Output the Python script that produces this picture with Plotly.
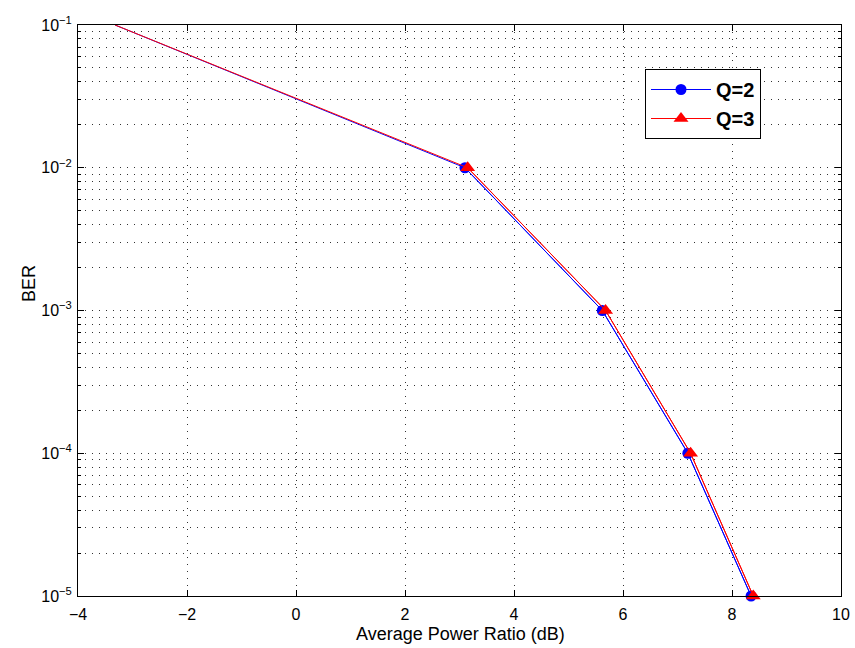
import plotly.graph_objects as go

# Data
ber = [1e-1, 1e-2, 1e-3, 1e-4, 1e-5]
x_q2 = [-3.32, 3.10, 5.62, 7.19, 8.35]
x_q3 = [-3.32, 3.15, 5.68, 7.24, 8.39]
series_names = ["Q=2", "Q=3"]
colors = ["#0000ff", "#ff0000"]
symbols = ["circle", "triangle-up"]
marker_sizes = [11, 13]

x_ticks = [-4, -2, 0, 2, 4, 6, 8, 10]
y_exps = [-5, -4, -3, -2, -1]
y_ticks = [10.0 ** e for e in y_exps]
y_ticktext = ["10<sup>\u2212%d</sup>" % (-e) for e in y_exps]
minor_y = [m * 10.0 ** e for e in range(-5, -1) for m in range(2, 10)]

FONT = "Liberation Sans, Arial, sans-serif"
W, H = 855, 648
ML, MR, MT, MB = 78, 14, 25, 52
PW, PH = W - ML - MR, H - MT - MB

fig = go.Figure()
for xs, name, col, sym, ms in zip([x_q2, x_q3], series_names, colors, symbols, marker_sizes):
    fig.add_trace(go.Scatter(x=xs, y=ber, mode="lines", line=dict(color=col, width=1),
                             showlegend=False, hoverinfo="skip"))
    fig.add_trace(go.Scatter(x=xs[1:], y=ber[1:], mode="lines+markers", name=name,
                             line=dict(color=col, width=1), cliponaxis=False,
                             marker=dict(color=col, symbol=sym, size=ms, line=dict(width=0))))

axis_common = dict(
    showline=True, linecolor="black", linewidth=1, mirror="ticks",
    ticks="inside", ticklen=6, tickcolor="black",
    showgrid=True, gridcolor="#333333", gridwidth=1, griddash="1px,6px",
    zeroline=False, automargin=False,
    tickfont=dict(family=FONT, size=16, color="black"),
)

fig.update_xaxes(range=[-4, 10], tickvals=x_ticks,
                 ticktext=[str(v).replace("-", "\u2212") for v in x_ticks],
                 ticklabelstandoff=4,
                 **axis_common)
fig.update_yaxes(type="log", range=[-5, -1], tickvals=y_ticks, ticktext=y_ticktext,
                 ticklabelstandoff=2,
                 minor=dict(tickvals=minor_y, ticks="inside", ticklen=3, tickcolor="black",
                            showgrid=True, gridcolor="#333333", gridwidth=1, griddash="1px,6px"),
                 **axis_common)

fig.add_annotation(text="Average Power Ratio (dB)", xref="paper", yref="paper",
                   x=((460 - ML) / PW), y=((H - MB) - 634) / PH,
                   xanchor="center", yanchor="middle", showarrow=False,
                   font=dict(family=FONT, size=18, color="black"))
fig.add_annotation(text="BER", xref="paper", yref="paper",
                   x=(29 - ML) / PW, y=((H - MB) - 284) / PH, textangle=-90,
                   xanchor="center", yanchor="middle", showarrow=False,
                   font=dict(family=FONT, size=18, color="black"))

fig.update_layout(
    width=W, height=H,
    margin=dict(l=ML, r=MR, t=MT, b=MB),
    plot_bgcolor="white", paper_bgcolor="white",
    legend=dict(x=(645 - ML) / PW, y=((H - MB) - 69) / PH, xanchor="left", yanchor="top",
                bgcolor="white", bordercolor="black", borderwidth=1,
                itemwidth=60,
                font=dict(family=FONT, size=20, color="black", weight="bold")),
    font=dict(family=FONT),
)

fig.write_html("out.html")
